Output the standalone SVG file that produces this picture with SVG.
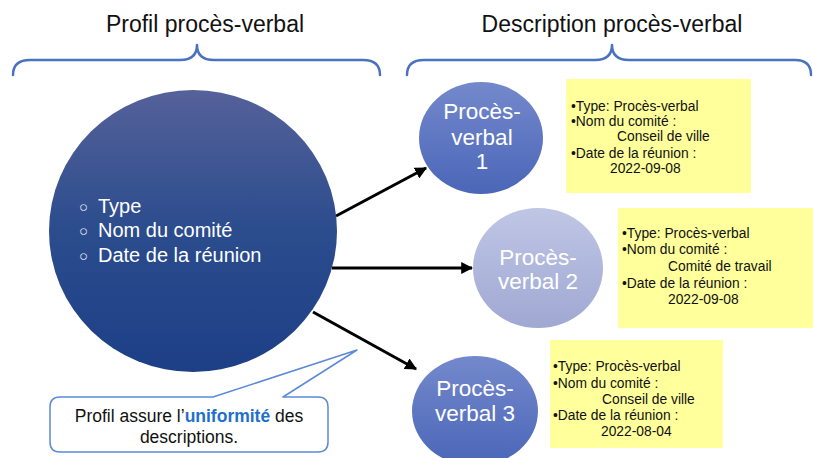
<svg xmlns="http://www.w3.org/2000/svg" width="813" height="458" viewBox="0 0 813 458">
  <style>
    .head { font-family: "Liberation Sans", Arial, sans-serif; font-size: 23px; fill: #111; text-anchor: middle; }
    .brace { fill: none; stroke: #4a72c0; stroke-width: 2.5; stroke-linecap: round; stroke-linejoin: round; }
    .big { font-family: "Liberation Sans", Arial, sans-serif; font-size: 20px; fill: #fff; }
    .bul { font-family: "Liberation Sans", Arial, sans-serif; font-size: 15px; fill: #e8ecf8; }
    .pv { font-family: "Liberation Sans", Arial, sans-serif; font-size: 22.5px; fill: #fff; text-anchor: middle; }
    .note { fill: #ffff9c; }
    .nt { font-family: "Liberation Sans", Arial, sans-serif; font-size: 13.8px; fill: #111; }
    .arrow { stroke: #000; stroke-width: 3; fill: none; }
    .call { fill: #fff; stroke: #5b8ad6; stroke-width: 1.5; stroke-linejoin: round; }
    .ct { font-family: "Liberation Sans", Arial, sans-serif; font-size: 17.5px; fill: #111; text-anchor: middle; }
    .hl { fill: #1f6fd0; font-weight: bold; }
  </style>
  <defs>
    <linearGradient id="gBig" x1="0" y1="0" x2="0" y2="1">
      <stop offset="0" stop-color="#55619a"/>
      <stop offset="0.5" stop-color="#2b4c8d"/>
      <stop offset="1" stop-color="#1d3f86"/>
    </linearGradient>
    <linearGradient id="gMid" x1="0" y1="0" x2="0" y2="1">
      <stop offset="0" stop-color="#7489cc"/>
      <stop offset="1" stop-color="#4b66b8"/>
    </linearGradient>
    <linearGradient id="gLight" x1="0" y1="0" x2="0" y2="1">
      <stop offset="0" stop-color="#bfc6e5"/>
      <stop offset="1" stop-color="#a0a8d3"/>
    </linearGradient>
    <marker id="ah" viewBox="0 0 10 10" refX="9" refY="5" markerWidth="4" markerHeight="4" orient="auto">
      <path d="M0,0 L10,5 L0,10 Z" fill="#000"/>
    </marker>
  </defs>

  <!-- headings and braces -->
  <g id="heading-profil">
    <text class="head" x="205" y="32">Profil procès-verbal</text>
    <path class="brace" d="M13,75 Q13,60 30,60 L180,60 Q197,60 197,45 Q197,60 214,60 L363,60 Q380,60 380,75"/>
  </g>
  <g id="heading-description">
    <text class="head" x="612" y="32">Description procès-verbal</text>
    <path class="brace" d="M407,75 Q407,60 424,60 L595,60 Q612,60 612,45 Q612,60 629,60 L795,60 Q811,60 811,75"/>
  </g>

  <!-- connectors -->
  <g id="connectors">
    <line class="arrow" x1="336" y1="216" x2="426" y2="168" marker-end="url(#ah)"/>
    <line class="arrow" x1="332" y1="268" x2="472" y2="268" marker-end="url(#ah)"/>
    <line class="arrow" x1="313" y1="312" x2="416" y2="369" marker-end="url(#ah)"/>
  </g>

  <!-- profile node -->
  <g id="profil">
    <ellipse cx="193" cy="231" rx="144" ry="141" fill="url(#gBig)"/>
    <text class="bul" x="79" y="212">○</text>
    <text class="big" x="98" y="213">Type</text>
    <text class="bul" x="79" y="236">○</text>
    <text class="big" x="98" y="237">Nom du comité</text>
    <text class="bul" x="79" y="261">○</text>
    <text class="big" x="98" y="262">Date de la réunion</text>
  </g>

  <!-- minutes 1 -->
  <g id="pv1">
    <ellipse cx="481" cy="138" rx="62" ry="56" fill="url(#gMid)"/>
    <text class="pv" x="482" y="119">Procès-</text>
    <text class="pv" x="482" y="145">verbal</text>
    <text class="pv" x="482" y="169">1</text>
  </g>
  <g id="desc1">
    <rect class="note" x="566" y="79" width="185" height="114"/>
    <text class="nt" x="571" y="111">•Type: Procès-verbal</text>
    <text class="nt" x="571" y="126">•Nom du comité :</text>
    <text class="nt" x="617" y="141">Conseil de ville</text>
    <text class="nt" x="571" y="158">•Date de la réunion :</text>
    <text class="nt" x="610" y="173">2022-09-08</text>
  </g>

  <!-- minutes 2 -->
  <g id="pv2">
    <ellipse cx="538" cy="268" rx="65" ry="60" fill="url(#gLight)"/>
    <text class="pv" x="538" y="265">Procès-</text>
    <text class="pv" x="538" y="289">verbal 2</text>
  </g>
  <g id="desc2">
    <rect class="note" x="618" y="208" width="195" height="120"/>
    <text class="nt" x="622" y="238">•Type: Procès-verbal</text>
    <text class="nt" x="622" y="254">•Nom du comité :</text>
    <text class="nt" x="668" y="271">Comité de travail</text>
    <text class="nt" x="622" y="288">•Date de la réunion :</text>
    <text class="nt" x="668" y="304">2022-09-08</text>
  </g>

  <!-- minutes 3 -->
  <g id="pv3">
    <ellipse cx="475" cy="411" rx="63" ry="55" fill="url(#gMid)"/>
    <text class="pv" x="475" y="396">Procès-</text>
    <text class="pv" x="475" y="421">verbal 3</text>
  </g>
  <g id="desc3">
    <rect class="note" x="550" y="340" width="173" height="108"/>
    <text class="nt" x="553" y="371">•Type: Procès-verbal</text>
    <text class="nt" x="553" y="388">•Nom du comité :</text>
    <text class="nt" x="602" y="404">Conseil de ville</text>
    <text class="nt" x="553" y="420">•Date de la réunion :</text>
    <text class="nt" x="601" y="436">2022-08-04</text>
  </g>

  <!-- callout -->
  <g id="callout">
    <path class="call" d="M60,397 L213,397 L357,350 L283,397 L318,397 Q328,397 328,407 L328,442 Q328,452 318,452 L60,452 Q50,452 50,442 L50,407 Q50,397 60,397 Z"/>
    <text class="ct" x="189" y="422">Profil assure l’<tspan class="hl">uniformité</tspan> des</text>
    <text class="ct" x="189" y="443">descriptions.</text>
  </g>
</svg>
